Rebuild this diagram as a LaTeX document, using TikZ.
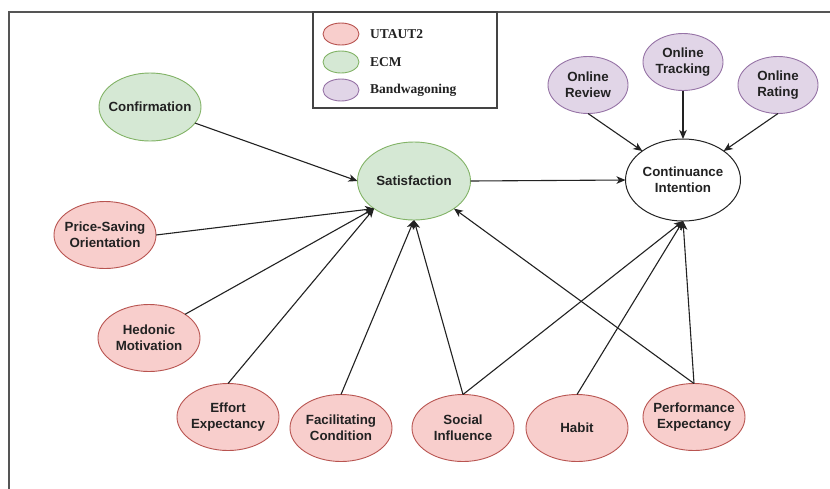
\documentclass[tikz,border=0pt]{standalone}
\usepackage{fontspec}
\setmainfont{Liberation Sans}
\newfontfamily\legfont{Liberation Serif}
\usetikzlibrary{shapes.geometric,arrows.meta}
\definecolor{redfill}{HTML}{F8CECC}
\definecolor{redline}{HTML}{B85450}
\definecolor{grnfill}{HTML}{D5E8D4}
\definecolor{grnline}{HTML}{82B366}
\definecolor{purfill}{HTML}{E1D5E7}
\definecolor{purline}{HTML}{9673A6}
\definecolor{framecol}{HTML}{555555}
\definecolor{inkcol}{HTML}{222222}
\begin{document}
\begin{tikzpicture}[x=1pt,y=-1pt,
  bub/.style={ellipse, draw, line width=0.9pt, inner sep=0pt, outer sep=0pt},
  lbl/.style={align=center, inner sep=0pt, font=\fontsize{13.3}{16}\selectfont\bfseries, text=inkcol},
  ut/.style={bub, fill=redfill, draw=redline, minimum width=102pt, minimum height=67pt},
  ecm/.style={bub, fill=grnfill, draw=grnline},
  bw/.style={bub, fill=purfill, draw=purline, minimum width=80pt, minimum height=57pt},
  conn/.style={draw=inkcol, line width=1.1pt, -{Stealth[length=9pt,width=7.5pt,inset=2.5pt]}},
  legell/.style={ellipse, draw, line width=0.9pt, inner sep=0pt, minimum width=36pt, minimum height=22pt},
  legtxt/.style={anchor=west, inner sep=0pt, font=\legfont\fontsize{13.5}{16}\selectfont\bfseries, text=inkcol}
]
\useasboundingbox (0,0) rectangle (830,488);
\fill[white] (0,0) rectangle (830,488);
% frame
\draw[framecol, line width=1.4pt] (9,492) -- (9,12) -- (834,12);
% legend
\draw[framecol!80!black, line width=1.2pt] (313,12) rectangle (497,108);
\node[legell, fill=redfill, draw=redline] (l1) at (341,34) {};
\node[legell, fill=grnfill, draw=grnline] (l2) at (341,62) {};
\node[legell, fill=purfill, draw=purline] (l3) at (341,90) {};
\node[legtxt] (t1) at (370,34) {UTAUT2};
\node[legtxt] (t2) at (370,62) {ECM};
\node[legtxt] (t3) at (370,90) {Bandwagoning};
% nodes
\node[ecm, minimum width=102pt, minimum height=68pt, label={[lbl]center:Confirmation}] (conf) at (150,107) {};
\node[ecm, minimum width=113pt, minimum height=78pt, label={[lbl]center:Satisfaction}] (sat) at (414,181) {};
\node[bub, draw=inkcol, fill=white, line width=1pt, minimum width=115pt, minimum height=82pt, label={[lbl]center:Continuance\\Intention}] (ci) at (683,180) {};
\node[bw, label={[lbl]center:Online\\Review}] (orv) at (588,85) {};
\node[bw, label={[lbl]center:Online\\Tracking}] (otr) at (683,62) {};
\node[bw, label={[lbl]center:Online\\Rating}] (ort) at (778,85) {};
\node[ut, label={[lbl]center:Price-Saving\\Orientation}] (pso) at (105,235) {};
\node[ut, label={[lbl]center:Hedonic\\Motivation}] (hed) at (149,338) {};
\node[ut, label={[lbl]center:Effort\\Expectancy}] (eff) at (228,417) {};
\node[ut, label={[lbl]center:Facilitating\\Condition}] (fac) at (341,428) {};
\node[ut, label={[lbl]center:Social\\Influence}] (soc) at (463,428) {};
\node[ut, label={[lbl]center:Habit}] (hab) at (577,428) {};
\node[ut, label={[lbl]center:Performance\\Expectancy}] (per) at (694,417) {};
% connectors
\draw[conn] (conf) -- (sat.west);
\draw[conn] (pso.east) -- (sat.south west);
\draw[conn] (hed.north east) -- (sat.south west);
\draw[conn] (eff.north) -- (sat.south west);
\draw[conn] (fac.north) -- (sat.south);
\draw[conn] (soc.north) -- (sat.south);
\draw[conn] (per.north) -- (sat.south east);
\draw[conn] (sat.east) -- (ci.west);
\draw[conn] (orv.south) -- (ci.north west);
\draw[conn] (otr.south) -- (ci.north);
\draw[conn] (ort.south) -- (ci.north east);
\draw[conn] (soc.north) -- (ci.south);
\draw[conn] (hab.north) -- (ci.south);
\draw[conn] (per.north) -- (ci.south);
\end{tikzpicture}
\end{document}
